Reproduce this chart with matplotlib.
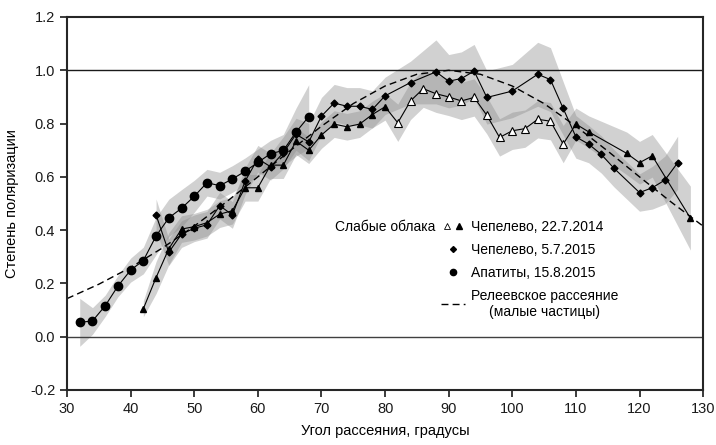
import numpy as np
import matplotlib.pyplot as plt
from matplotlib.lines import Line2D
from matplotlib.legend_handler import HandlerTuple

plt.rcParams['font.family'] = ['Liberation Sans', 'DejaVu Sans']

# Апатиты, 15.8.2015 (circles)
circ_x = [32, 34, 36, 38, 40, 42, 44, 46, 48, 50, 52, 54, 56, 58, 60, 62, 64, 66, 68]
circ_y = [0.054, 0.059, 0.116, 0.19, 0.25, 0.286, 0.378, 0.446, 0.482, 0.527,
          0.578, 0.567, 0.592, 0.621, 0.654, 0.687, 0.699, 0.768, 0.826]
circ_err = [0.09, 0.05, 0.04, 0.04, 0.045, 0.05, 0.07, 0.07, 0.07, 0.06,
            0.05, 0.05, 0.05, 0.05, 0.05, 0.05, 0.06, 0.09, 0.12]

# Чепелево, 5.7.2015 (diamonds)
diam_x = [44, 46, 48, 50, 52, 54, 56, 58, 60, 62, 64, 66, 68, 70, 72, 74, 76, 78, 80,
          84, 88, 90, 92, 94, 96, 100, 104, 106, 108, 110, 112, 114, 116, 120, 122, 124, 126]
diam_y = [0.457, 0.317, 0.385, 0.407, 0.42, 0.492, 0.457, 0.584, 0.668, 0.638,
          0.69, 0.76, 0.731, 0.828, 0.877, 0.865, 0.865, 0.853, 0.904,
          0.954, 0.994, 0.959, 0.969, 0.997, 0.898, 0.922, 0.985, 0.965, 0.857,
          0.75, 0.723, 0.684, 0.632, 0.541, 0.559, 0.588, 0.653]
diam_err = [0.06, 0.05, 0.05, 0.05, 0.05, 0.05, 0.05, 0.05, 0.05, 0.05,
            0.06, 0.06, 0.07, 0.07, 0.07, 0.07, 0.07, 0.07, 0.07,
            0.08, 0.12, 0.1, 0.1, 0.1, 0.1, 0.1, 0.12, 0.12, 0.1,
            0.08, 0.07, 0.07, 0.07, 0.07, 0.08, 0.09, 0.1]

# Чепелево, 22.7.2014 (triangles; open ones = weak clouds)
tri_x = [42, 44, 46, 48, 50, 52, 54, 56, 58, 60, 62, 64, 66, 68, 70, 72, 74, 76, 78, 80,
         82, 84, 86, 88, 90, 92, 94, 96, 98, 100, 102, 104, 106, 108,
         110, 112, 118, 120, 122, 128]
tri_y = [0.105, 0.222, 0.33, 0.404, 0.413, 0.428, 0.46, 0.473, 0.559, 0.559,
         0.644, 0.644, 0.734, 0.70, 0.757, 0.798, 0.788, 0.798, 0.834, 0.863,
         0.803, 0.885, 0.931, 0.912, 0.90, 0.885, 0.898, 0.831, 0.748, 0.773,
         0.781, 0.816, 0.809, 0.723, 0.798, 0.769, 0.688, 0.653, 0.679, 0.445]
tri_err = [0.03, 0.06, 0.06, 0.05, 0.05, 0.05, 0.05, 0.05, 0.05, 0.05,
           0.05, 0.05, 0.05, 0.05, 0.05, 0.05, 0.05, 0.05, 0.05, 0.05,
           0.07, 0.07, 0.07, 0.07, 0.07, 0.07, 0.07, 0.07, 0.07, 0.07,
           0.07, 0.07, 0.07, 0.07, 0.06, 0.06, 0.08, 0.08, 0.08, 0.12]
tri_open = [82, 84, 86, 88, 90, 92, 94, 96, 98, 100, 102, 104, 106, 108]

# Релеевское рассеяние
ray_x = [30, 35, 40, 45, 50, 55, 60, 65, 70, 75, 80, 85, 90,
         95, 100, 105, 110, 115, 120, 125, 130]
ray_y = [0.143, 0.197, 0.26, 0.333, 0.415, 0.505, 0.6, 0.697, 0.79, 0.875, 0.941, 0.985, 1.0,
         0.985, 0.941, 0.875, 0.79, 0.697, 0.6, 0.505, 0.415]

fig = plt.figure(figsize=(7.16, 4.45), dpi=100)
ax = fig.add_axes([0.0936, 0.1236, 0.8884, 0.8382])

band = dict(color='0.55', alpha=0.4, lw=0)
for x, y, e in [(circ_x, circ_y, circ_err), (diam_x, diam_y, diam_err), (tri_x, tri_y, tri_err)]:
    x, y, e = np.array(x), np.array(y), np.array(e)
    ax.fill_between(x, y - e, y + e, **band)

ax.axhline(0.0, color='0.25', lw=1.0)
ax.axhline(1.0, color='0.1', lw=1.0)

ax.plot(ray_x, ray_y, color='k', lw=1.0, dashes=(5, 3))

ax.plot(circ_x, circ_y, '-o', color='k', lw=0.8, ms=6)
ax.plot(diam_x, diam_y, '-D', color='k', lw=0.8, ms=3.5)

tx = np.array(tri_x)
ty = np.array(tri_y)
is_open = np.isin(tx, tri_open)
ax.plot(tx, ty, '-', color='k', lw=0.8)
ax.plot(tx[~is_open], ty[~is_open], '^', color='k', ms=5, ls='none')
ax.plot(tx[is_open], ty[is_open], '^', mfc='white', mec='k', mew=0.8, ms=5.5, ls='none')

ax.set_xlim(30, 130)
ax.set_ylim(-0.2, 1.2)
ax.set_xticks(np.arange(30, 131, 10))
ax.set_yticks(np.arange(-0.2, 1.21, 0.2))
ax.set_yticklabels([f'{v:.1f}' for v in np.arange(-0.2, 1.21, 0.2)])
ax.tick_params(direction='out', length=5, width=1.2, labelsize=10.5, colors='0.1')
for s in ax.spines.values():
    s.set_linewidth(1.5)
    s.set_color('0.15')

ax.set_xlabel('Угол рассеяния, градусы', fontsize=10.5, labelpad=6)
ax.set_ylabel('Степень поляризации', fontsize=10.5, labelpad=8)

h_tri = (Line2D([], [], marker='^', mfc='white', mec='k', mew=0.6, ms=4, ls='none'),
         Line2D([], [], marker='^', color='k', ms=4, ls='none'))
h_diam = Line2D([], [], marker='D', color='k', ms=3, ls='none')
h_circ = Line2D([], [], marker='o', color='k', ms=4.5, ls='none')
h_ray = Line2D([], [], color='k', lw=1.0, dashes=(5, 3))
leg = ax.legend([h_tri, h_diam, h_circ, h_ray],
                ['Чепелево, 22.7.2014', 'Чепелево, 5.7.2015', 'Апатиты, 15.8.2015',
                 'Релеевское рассеяние\n(малые частицы)'],
                handler_map={tuple: HandlerTuple(ndivide=None, pad=0.1)},
                loc='upper left', bbox_to_anchor=(0.588, 0.456), frameon=False,
                fontsize=10, handlelength=1.7, handletextpad=0.45,
                labelspacing=0.64, borderpad=0, borderaxespad=0)
leg.get_texts()[3].set_multialignment('center')
fig.text(0.608, 0.491, 'Слабые облака', fontsize=10, ha='right', va='center')

fig.savefig('out.png', dpi=100)
